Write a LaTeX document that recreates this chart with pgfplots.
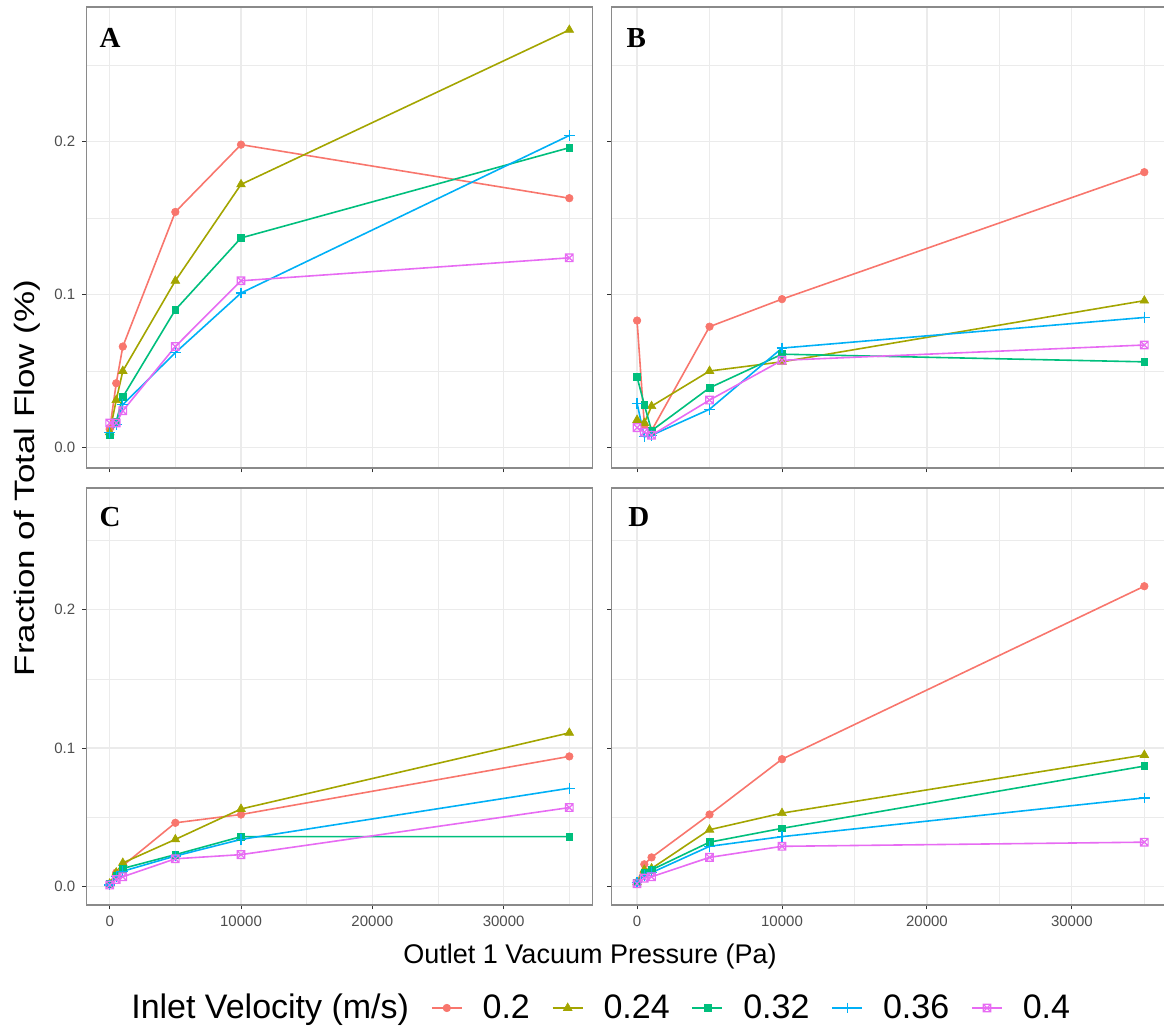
\documentclass[border=0pt]{standalone}
\usepackage{pgfplots}
\pgfplotsset{compat=1.18}
\usepackage{pgfplotstable}
\usepackage{graphicx}
\usepackage{fontspec}
\setmainfont{Liberation Sans}
\newfontfamily\serifb{Liberation Serif}

\definecolor{c1}{HTML}{F8766D}
\definecolor{c2}{HTML}{A3A500}
\definecolor{c3}{HTML}{00BF7D}
\definecolor{c4}{HTML}{00B0F6}
\definecolor{c5}{HTML}{E76BF3}
\definecolor{gridc}{HTML}{EBEBEB}
\definecolor{bord}{HTML}{8A8A8A}
\definecolor{tickc}{HTML}{333333}
\definecolor{tlab}{HTML}{4D4D4D}

\pgfdeclareplotmark{boxx}{%
  \pgfpathrectangle{\pgfpoint{-\pgfplotmarksize}{-\pgfplotmarksize}}{\pgfpoint{2\pgfplotmarksize}{2\pgfplotmarksize}}%
  \pgfpathmoveto{\pgfpoint{-\pgfplotmarksize}{-\pgfplotmarksize}}%
  \pgfpathlineto{\pgfpoint{\pgfplotmarksize}{\pgfplotmarksize}}%
  \pgfpathmoveto{\pgfpoint{-\pgfplotmarksize}{\pgfplotmarksize}}%
  \pgfpathlineto{\pgfpoint{\pgfplotmarksize}{-\pgfplotmarksize}}%
  \pgfusepathqstroke}

% x: outlet 1 vacuum pressure (Pa); r=0.2, o=0.24, g=0.32, c=0.36, p=0.4
\pgfplotstableread{
x r o g c p
0 0.012 0.010 0.008 0.010 0.016
500 0.042 0.031 0.017 0.015 0.016
1000 0.066 0.050 0.033 0.028 0.024
5000 0.154 0.109 0.090 0.062 0.066
10000 0.198 0.172 0.137 0.101 0.109
35000 0.163 0.273 0.196 0.204 0.124
}\tA
\pgfplotstableread{
x r o g c p
0 0.083 0.018 0.046 0.029 0.013
500 0.015 0.016 0.028 0.007 0.010
1000 0.011 0.027 0.011 0.008 0.008
5000 0.079 0.050 0.039 0.025 0.031
10000 0.097 0.056 0.061 0.065 0.057
35000 0.180 0.096 0.056 0.085 0.067
}\tB
\pgfplotstableread{
x r o g c p
0 0.002 0.002 0.002 0.001 0.001
500 0.010 0.010 0.008 0.007 0.005
1000 0.015 0.017 0.013 0.011 0.007
5000 0.046 0.034 0.023 0.022 0.020
10000 0.052 0.056 0.036 0.034 0.023
35000 0.094 0.111 0.036 0.071 0.057
}\tC
\pgfplotstableread{
x r o g c p
0 0.003 0.003 0.003 0.003 0.002
500 0.016 0.012 0.010 0.008 0.006
1000 0.021 0.013 0.012 0.010 0.007
5000 0.052 0.041 0.032 0.029 0.021
10000 0.092 0.053 0.042 0.036 0.029
35000 0.217 0.095 0.087 0.064 0.032
}\tD

\pgfplotsset{
  facet/.style={
    scale only axis,
    xmin=-1750, xmax=36750, ymin=-0.0134, ymax=0.288,
    xtick={0,10000,20000,30000}, ytick={0,0.1,0.2},
    minor xtick={5000,15000,25000,35000}, minor ytick={0.05,0.15,0.25},
    grid=both,
    major grid style={draw=gridc, line width=0.6pt},
    minor grid style={draw=gridc, line width=0.3pt},
    axis line style={draw=bord, line width=0.6pt},
    tick align=outside, xtick pos=bottom, ytick pos=left,
    major tick length=2.2pt, minor tick length=0pt,
    tick style={draw=tickc, line width=0.5pt},
    ticklabel style={font=\fontsize{7.5}{9}\selectfont, text=tlab},
    /pgf/number format/assume math mode=true,
    scaled x ticks=false, scaled y ticks=false,
    x tick label style={/pgf/number format/set thousands separator={}},
    y tick label style={/pgf/number format/.cd, fixed, fixed zerofill, precision=1},
    every axis plot/.append style={line width=0.8pt},
  },
  s1/.style={color=c1, mark=*, mark size=1.9pt, mark options={line width=0.3pt}},
  s2/.style={color=c2, mark=triangle*, mark size=2.5pt, mark options={line width=0.3pt}},
  s3/.style={color=c3, mark=square*, mark size=1.7pt, mark options={line width=0.3pt}},
  s4/.style={color=c4, mark=+, mark size=2.7pt, mark options={line width=0.6pt}},
  s5/.style={color=c5, mark=boxx, mark size=1.9pt, mark options={line width=0.6pt}},
}
\tikzset{plet/.style={anchor=north west, inner sep=0pt, font=\serifb\bfseries\fontsize{14.5}{16}\selectfont}}

\begin{document}
\begin{tikzpicture}
\useasboundingbox (0pt,0pt) rectangle (582pt,514pt);

% Panel A
\begin{axis}[facet, at={(43.35pt,280pt)}, anchor=south west, width=252.8pt, height=230.5pt, xticklabels={}]
\addplot[s1] table[x=x,y=r] {\tA};
\addplot[s2] table[x=x,y=o] {\tA};
\addplot[s3] table[x=x,y=g] {\tA};
\addplot[s4] table[x=x,y=c] {\tA};
\addplot[s5] table[x=x,y=p] {\tA};
\node[plet] at (rel axis cs:0.025,0.954) {A};
\end{axis}

% Panel B
\begin{axis}[facet, at={(305.85pt,280pt)}, anchor=south west, width=279pt, height=230.5pt, xticklabels={}, yticklabels={}]
\addplot[s1] table[x=x,y=r] {\tB};
\addplot[s2] table[x=x,y=o] {\tB};
\addplot[s3] table[x=x,y=g] {\tB};
\addplot[s4] table[x=x,y=c] {\tB};
\addplot[s5] table[x=x,y=p] {\tB};
\node[plet] at (rel axis cs:0.026,0.954) {B};
\end{axis}

% Panel C
\begin{axis}[facet, at={(43.35pt,61.5pt)}, anchor=south west, width=252.8pt, height=208.5pt,
  legend columns=-1,
  legend entries={Inlet Velocity (m/s),0.2,0.24,0.32,0.36,0.4},
  legend image code/.code={\draw[mark repeat=2,mark phase=2] plot coordinates {(0pt,0pt) (7.5pt,0pt) (15pt,0pt)};},
  legend style={draw=none, fill=none, at={(axis description cs:0.036,-0.247)}, anchor=west,
    font=\fontsize{17}{20}\selectfont, text=black,
    /tikz/every even column/.append style={column sep=9pt},
    /tikz/every odd column/.append style={column sep=8pt}}]
\addlegendimage{empty legend}
\addplot[s1] table[x=x,y=r] {\tC};
\addplot[s2] table[x=x,y=o] {\tC};
\addplot[s3] table[x=x,y=g] {\tC};
\addplot[s4] table[x=x,y=c] {\tC};
\addplot[s5] table[x=x,y=p] {\tC};
\node[plet] at (rel axis cs:0.025,0.954) {C};
\end{axis}

% Panel D
\begin{axis}[facet, at={(305.85pt,61.5pt)}, anchor=south west, width=279pt, height=208.5pt, yticklabels={}]
\addplot[s1] table[x=x,y=r] {\tD};
\addplot[s2] table[x=x,y=o] {\tD};
\addplot[s3] table[x=x,y=g] {\tD};
\addplot[s4] table[x=x,y=c] {\tD};
\addplot[s5] table[x=x,y=p] {\tD};
\node[plet] at (rel axis cs:0.029,0.954) {D};
\end{axis}

\node[font=\fontsize{13.5}{16}\selectfont, text=black] at (295pt,35.5pt) {Outlet 1 Vacuum Pressure (Pa)};
\node[font=\fontsize{14}{16}\selectfont, text=black, rotate=90] at (13.5pt,275pt) {\scalebox{1.25}[1]{Fraction of Total Flow (\%)}};
\end{tikzpicture}
\end{document}
